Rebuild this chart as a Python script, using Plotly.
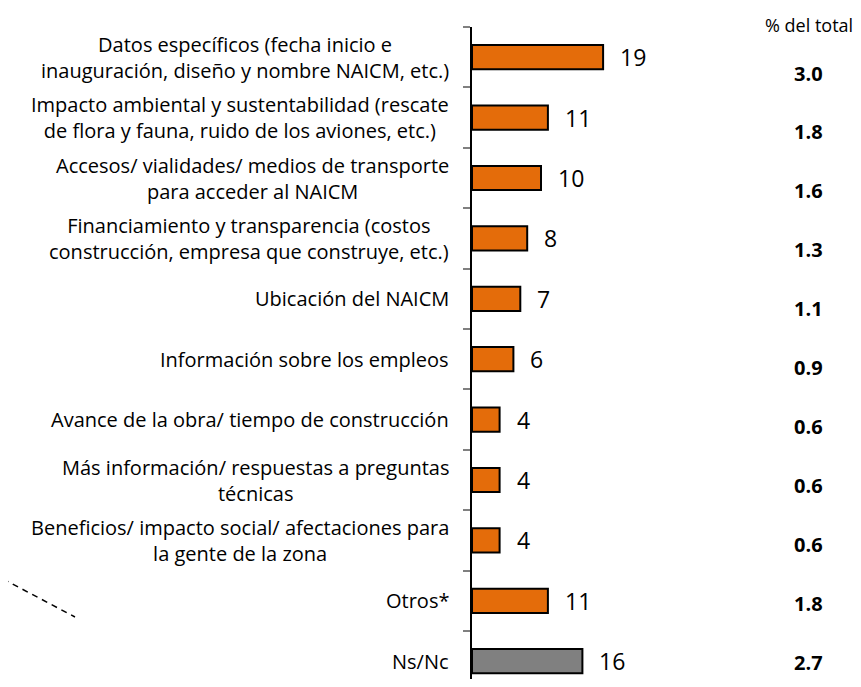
import plotly.graph_objects as go

categories = [
    "Datos específicos (fecha inicio e<br>inauguración, diseño y nombre NAICM, etc.)",
    "Impacto ambiental y sustentabilidad (rescate<br>de flora y fauna, ruido de los aviones, etc.)",
    "Accesos/ vialidades/ medios de transporte<br>para acceder al NAICM",
    "Financiamiento y transparencia (costos<br>construcción, empresa que construye, etc.)",
    "Ubicación del NAICM",
    "Información sobre los empleos",
    "Avance de la obra/ tiempo de construcción",
    "Más información/ respuestas a preguntas<br>técnicas",
    "Beneficios/ impacto social/ afectaciones para<br>la gente de la zona",
    "Otros*",
    "Ns/Nc",
]
values = [19, 11, 10, 8, 7, 6, 4, 4, 4, 11, 16]
pct_total = ["3.0", "1.8", "1.6", "1.3", "1.1", "0.9", "0.6", "0.6", "0.6", "1.8", "2.7"]

ORANGE = "#E46C0A"
GRAY = "#808080"
FONT = "'Open Sans', Lato, sans-serif"

# the page body adds an 8px margin, so the figure is kept inside the window
OFF = 8
W, H = 861 - OFF, 687 - 2 * OFF
L, R, T, B = 472 - OFF, 0, 27 - OFF, 0
plot_w = W - L - R
plot_h = H - T - B
row_px = 60.4


def px_x(x):
    return (x - OFF - L) / plot_w


def px_y(y):
    return 1 - (y - OFF - T) / plot_h


bar_colors = [ORANGE] * (len(values) - 1) + [GRAY]
ids = list(range(len(categories)))

fig = go.Figure()
fig.add_trace(go.Bar(
    y=ids,
    x=values,
    orientation="h",
    width=0.4,
    marker=dict(color=bar_colors, line=dict(color="#000000", width=2)),
    hoverinfo="skip",
))

annotations = []
# category labels, each line centred
for i, cat in enumerate(categories):
    annotations.append(dict(
        x=0, y=i, xref="x", yref="y", text=cat, showarrow=False,
        xanchor="right", yanchor="middle", align="center", xshift=-21,
        font=dict(family=FONT, size=20, color="#000000"),
    ))
# value labels
for i, v in enumerate(values):
    annotations.append(dict(
        x=v, y=i, xref="x", yref="y", text=str(v), showarrow=False,
        xanchor="left", yanchor="middle", xshift=15,
        font=dict(family=FONT, size=23, color="#000000"),
    ))
# percentage column
for i, p in enumerate(pct_total):
    y_px = 73 + i * 58.9
    annotations.append(dict(
        x=px_x(808), y=px_y(y_px),
        xref="paper", yref="paper", text="<b>" + p + "</b>", showarrow=False,
        xanchor="center", yanchor="middle",
        font=dict(family=FONT, size=20, color="#000000"),
    ))
annotations.append(dict(
    x=px_x(809), y=px_y(25), xref="paper", yref="paper", text="% del total",
    showarrow=False, xanchor="center", yanchor="middle",
    font=dict(family=FONT, size=18, color="#000000"),
))

fig.update_layout(
    width=W, height=H,
    margin=dict(l=L, r=R, t=T, b=B),
    plot_bgcolor="white", paper_bgcolor="white",
    showlegend=False,
    annotations=annotations,
    xaxis=dict(range=[0, plot_w / 6.9], visible=False, fixedrange=True),
    yaxis=dict(
        range=[plot_h / row_px - 0.5, -0.5],
        showticklabels=False,
        showline=True, linecolor="#000000", linewidth=1.5,
        ticks="outside", ticklen=7, tickcolor="#808080", tickwidth=1.5,
        tickvals=[i - 0.5 for i in range(len(categories) + 1)],
        showgrid=False, zeroline=False,
    ),
    shapes=[dict(
        type="line", xref="paper", yref="paper",
        x0=px_x(3), y0=px_y(579),
        x1=px_x(75), y1=px_y(617),
        line=dict(color="#000000", width=1.5, dash="6px,5px"),
    )],
)

fig.write_html("out.html")
